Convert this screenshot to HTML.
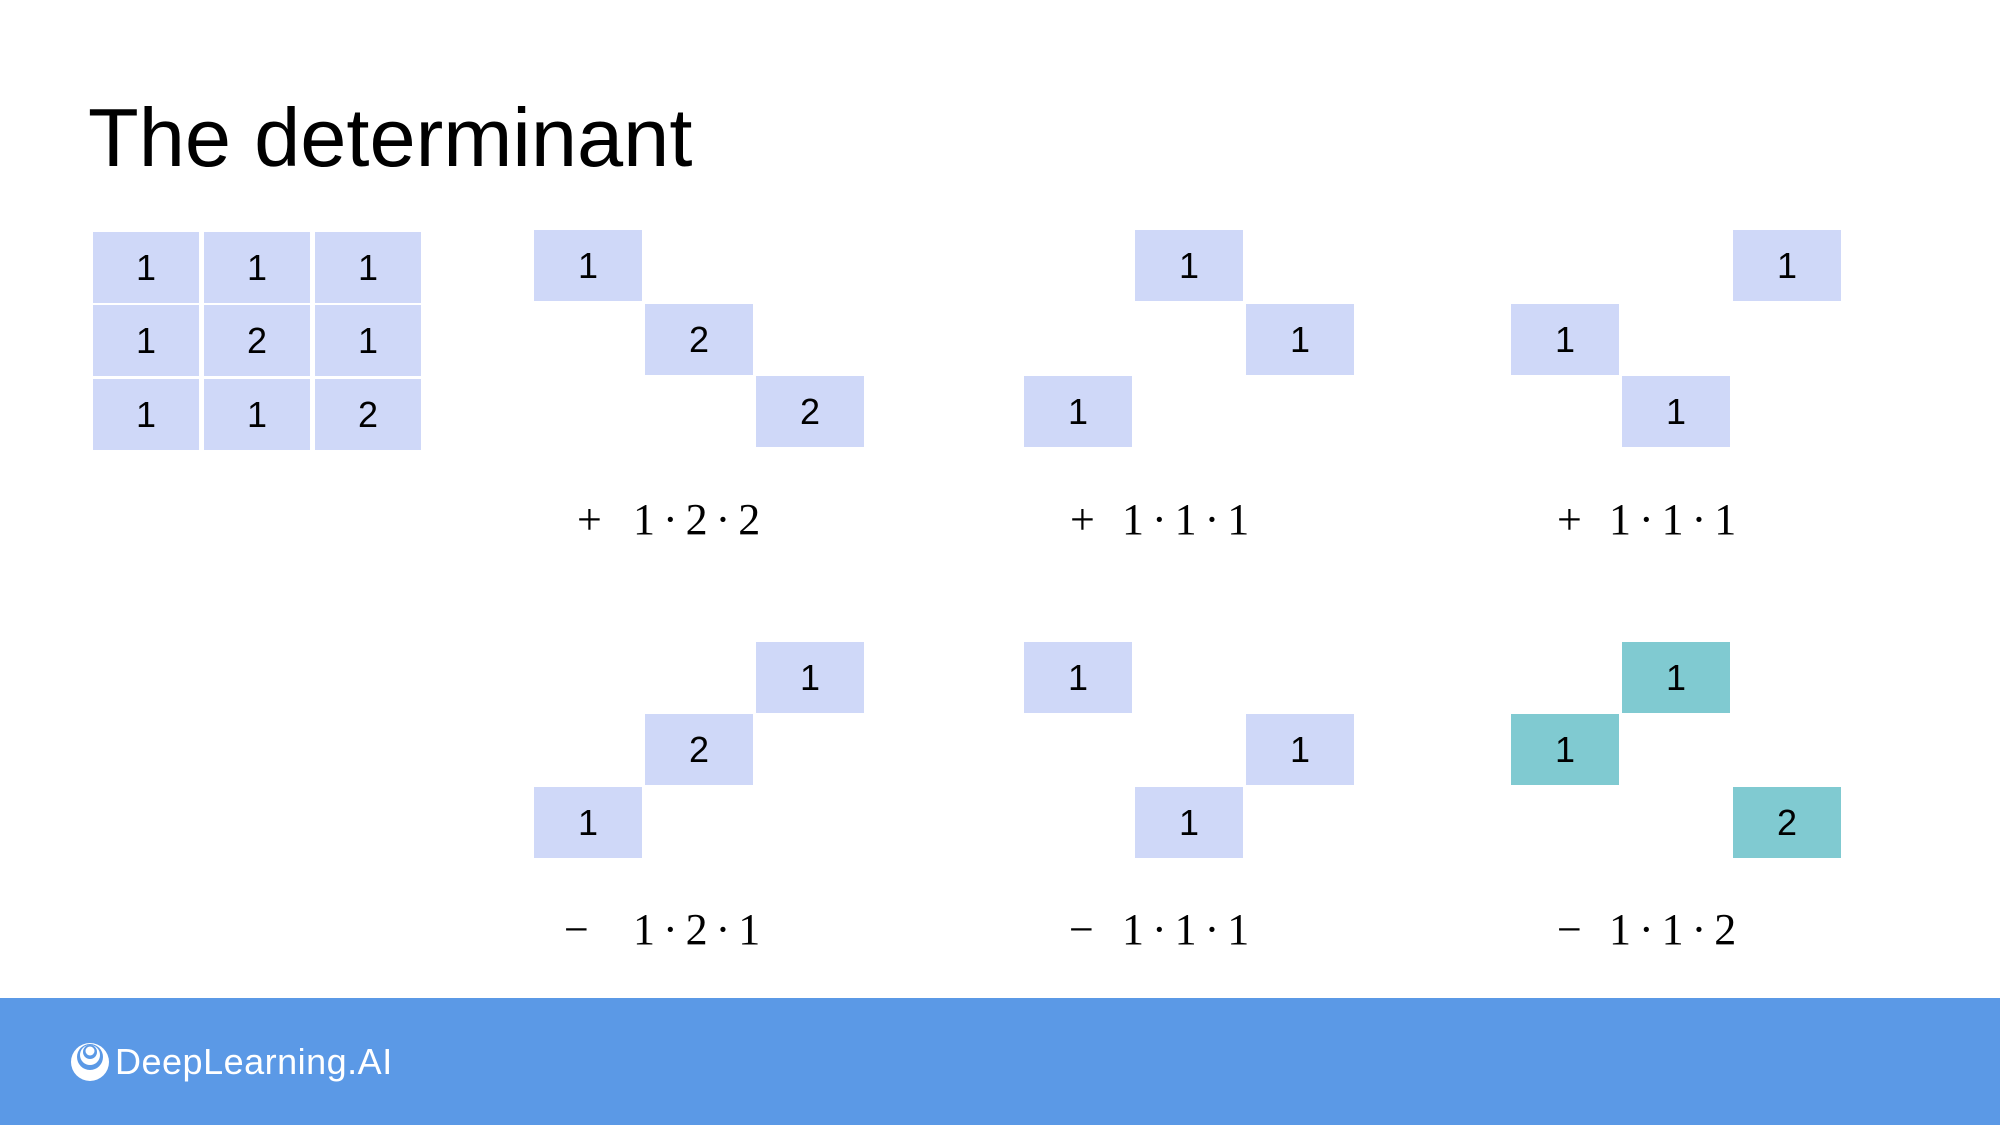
<!DOCTYPE html>
<html><head><meta charset="utf-8"><style>
html,body{margin:0;padding:0;background:#fff;}
#wrap{position:relative;width:2000px;height:1125px;overflow:hidden;background:#fff;font-family:"Liberation Sans",sans-serif;}
.cell{position:absolute;width:108px;height:71px;background:#cfd8f8;display:flex;align-items:center;justify-content:center;font-size:36px;color:#000;}
.cell.teal{background:#80cad1;}
.formula{position:absolute;font-family:"Liberation Serif",serif;font-size:44px;color:#000;white-space:pre;word-spacing:-3px;}
</style></head><body>
<div id="wrap">
<div style="position:absolute;left:88px;top:90px;font-size:83px;color:#000;">The determinant</div>
<div id="cells"></div>
<div class="formula" style="left:577px;top:494px;">+</div>
<div class="formula" style="left:633px;top:494px;">1 · 2 · 2</div>
<div class="formula" style="left:1070px;top:494px;">+</div>
<div class="formula" style="left:1122px;top:494px;">1 · 1 · 1</div>
<div class="formula" style="left:1557px;top:494px;">+</div>
<div class="formula" style="left:1609px;top:494px;">1 · 1 · 1</div>
<div class="formula" style="left:564px;top:904px;">−</div>
<div class="formula" style="left:633px;top:904px;">1 · 2 · 1</div>
<div class="formula" style="left:1069px;top:904px;">−</div>
<div class="formula" style="left:1122px;top:904px;">1 · 1 · 1</div>
<div class="formula" style="left:1557px;top:904px;">−</div>
<div class="formula" style="left:1609px;top:904px;">1 · 1 · 2</div>
<div style="position:absolute;left:0;top:998px;width:2000px;height:127px;background:#5b99e6;">
<svg style="position:absolute;left:70px;top:44px;" width="40" height="40" viewBox="0 0 40 40">
<circle cx="20" cy="20" r="19" fill="#fff"/>
<circle cx="20" cy="15" r="13" fill="#5b99e6"/>
<circle cx="20" cy="13" r="10" fill="#fff"/>
<circle cx="20" cy="10" r="7" fill="#5b99e6"/>
<circle cx="20" cy="9" r="4.5" fill="#fff"/>
</svg>
<div style="position:absolute;left:115px;top:43px;font-size:36px;letter-spacing:0.5px;color:#fff;">DeepLearning.AI</div>
</div>
</div>
<script>
const matrixValues=[[1,1,1],[1,2,1],[1,1,2]];
const groupCols=[[534,645,756],[1024,1135,1246],[1511,1622,1733]];
const groupRows=[[230,304,376],[642,714,787]];
// each term: [row-group, col-group, permutation (col index per row), teal]
const terms=[[0,0,[0,1,2],false],[0,1,[1,2,0],false],[0,2,[2,0,1],false],
             [1,0,[2,1,0],false],[1,1,[0,2,1],false],[1,2,[1,0,2],true]];
const host=document.getElementById('cells');
const mx=[93,204,315], my=[232,305,379];
for(let r=0;r<3;r++)for(let c=0;c<3;c++){
  const d=document.createElement('div');
  d.className='cell';
  
  
  d.style.left=mx[c]+'px';d.style.top=my[r]+'px';d.style.width='106px';
  d.textContent=matrixValues[r][c];
  host.appendChild(d);
}
terms.forEach(t=>{
  const [rg,cg,perm,teal]=t;
  for(let r=0;r<3;r++){
    const c=perm[r];
    const d=document.createElement('div');
    d.className='cell'+(teal?' teal':'');
    
    
    d.style.left=groupCols[cg][c]+'px';d.style.top=groupRows[rg][r]+'px';
    d.textContent=matrixValues[r][c];
    host.appendChild(d);
  }
});
</script>
</body></html>
